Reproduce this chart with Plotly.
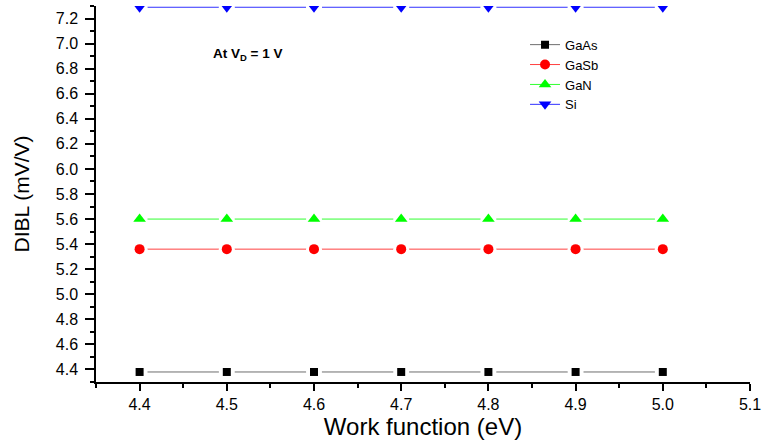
import plotly.graph_objects as go

work_function = [4.4, 4.5, 4.6, 4.7, 4.8, 4.9, 5.0]
gaas = [4.38, 4.38, 4.38, 4.38, 4.38, 4.38, 4.38]
gasb = [5.36, 5.36, 5.36, 5.36, 5.36, 5.36, 5.36]
gan = [5.6, 5.6, 5.6, 5.6, 5.6, 5.6, 5.6]
si = [7.29, 7.29, 7.29, 7.29, 7.29, 7.29, 7.29]
x_ticks = [4.4, 4.5, 4.6, 4.7, 4.8, 4.9, 5.0, 5.1]
y_ticks = [4.4, 4.6, 4.8, 5.0, 5.2, 5.4, 5.6, 5.8, 6.0, 6.2, 6.4, 6.6, 6.8, 7.0, 7.2]

series = [
    ("GaAs", gaas, "#000000", "#6e6e6e", "square", 8),
    ("GaSb", gasb, "#ff0000", "#ff4040", "circle", 10),
    ("GaN", gan, "#00ff00", "#30ff30", "triangle-up", 11),
    ("Si", si, "#0000ff", "#3030ff", "triangle-down", 11),
]

FONT = "Liberation Sans, Arial"
fig = go.Figure()
for name, ys, mcol, lcol, sym, size in series:
    fig.add_trace(go.Scatter(x=work_function, y=ys, mode="lines", showlegend=False,
                             line=dict(color=lcol, width=1), hoverinfo="skip"))
    fig.add_trace(go.Scatter(x=work_function, y=ys, mode="markers", showlegend=False,
                             marker=dict(symbol="circle", size=16, color="white"),
                             hoverinfo="skip"))
    fig.add_trace(go.Scatter(x=work_function, y=ys, mode="markers", showlegend=False, name=name,
                             marker=dict(symbol=sym, size=size, color=mcol)))
# legend entries
for name, ys, mcol, lcol, sym, size in series:
    fig.add_trace(go.Scatter(x=[None], y=[None], mode="lines+markers", name=name,
                             line=dict(color=lcol, width=1),
                             marker=dict(symbol=sym, size=size, color=mcol)))

fig.add_annotation(x=4.524, y=6.91, xref="x", yref="y", text="<b>At V<sub>D</sub> = 1 V</b>",
                   showarrow=False, font=dict(family=FONT, size=13.5, color="black"))

axis_common = dict(showline=True, linecolor="black", linewidth=1.5, ticks="outside",
                   tickwidth=1.5, tickcolor="black", showgrid=False, zeroline=False,
                   mirror=False, tickfont=dict(family=FONT, size=16, color="black"))

fig.update_xaxes(range=[4.35, 5.1], tickmode="array", ticklen=7,
                 tickvals=x_ticks, ticktext=["%.1f" % v for v in x_ticks],
                 minor=dict(dtick=0.05, tick0=4.35, ticks="outside", ticklen=4, tickcolor="black", tickwidth=1.5),
                 title=dict(text="Work function (eV)", standoff=4,
                            font=dict(family=FONT, size=24, color="black")),
                 **axis_common)
fig.update_yaxes(range=[4.3, 7.3], tickmode="array", ticklen=9, ticklabelstandoff=4,
                 tickvals=y_ticks, ticktext=["%.1f" % v for v in y_ticks],
                 minor=dict(dtick=0.1, tick0=4.3, ticks="outside", ticklen=4, tickcolor="black", tickwidth=1.5),
                 title=dict(text="DIBL (mV/V)", standoff=20,
                            font=dict(family=FONT, size=21, color="black")),
                 **axis_common)

fig.update_layout(
    width=764, height=446,
    margin=dict(l=96, r=14, t=6, b=64, autoexpand=False),
    plot_bgcolor="white", paper_bgcolor="white",
    legend=dict(x=0.656, y=0.937, xanchor="left", yanchor="top", bgcolor="rgba(0,0,0,0)",
                font=dict(family=FONT, size=13, color="black"),
                tracegroupgap=0),
    showlegend=True,
)

fig.write_html("out.html", config={"displayModeBar": False},
               post_script="document.body.style.margin='0';document.body.style.overflow='hidden';")
